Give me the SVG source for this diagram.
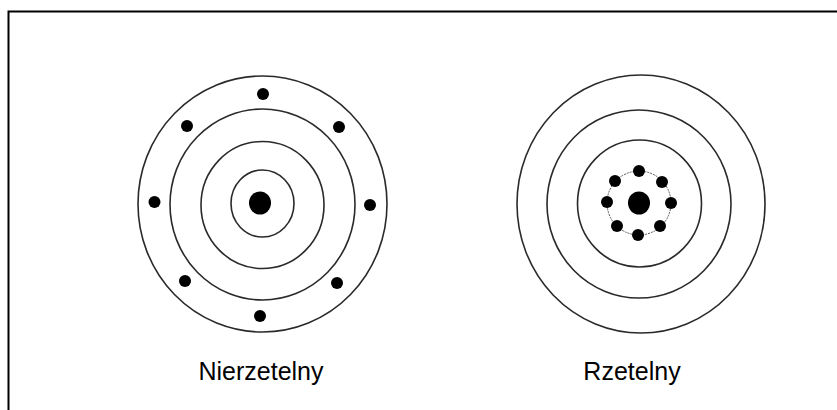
<svg xmlns="http://www.w3.org/2000/svg" width="837" height="410" viewBox="0 0 837 410">
<style>
.ring{fill:none;stroke:#2a2a2a;stroke-width:1.6}
.dot{fill:#000}
.lbl{font-family:"Liberation Sans",Arial,sans-serif;font-size:25px;fill:#000;text-anchor:middle}
</style>
<rect x="0" y="0" width="837" height="410" fill="#fff"/>
<rect x="8.5" y="11.5" width="900" height="500" fill="none" stroke="#000" stroke-width="2"/>
<g id="target-unreliable">
<ellipse class="ring" cx="262.5" cy="204" rx="124.5" ry="128"/>
<ellipse class="ring" cx="262.5" cy="204.5" rx="92.5" ry="95.5"/>
<ellipse class="ring" cx="262.5" cy="205" rx="61.5" ry="63.5"/>
<ellipse class="ring" cx="262.5" cy="203.5" rx="31.5" ry="33.5"/>
<ellipse class="dot" cx="260" cy="203" rx="11" ry="11.5"/>
<circle class="dot" cx="263" cy="94" r="6"/>
<circle class="dot" cx="187" cy="126" r="6"/>
<circle class="dot" cx="339" cy="127" r="6"/>
<circle class="dot" cx="154.5" cy="202" r="6"/>
<circle class="dot" cx="370" cy="205" r="6"/>
<circle class="dot" cx="185" cy="281" r="6"/>
<circle class="dot" cx="337" cy="283" r="6"/>
<circle class="dot" cx="260" cy="316" r="6"/>
</g>
<g id="target-reliable">
<ellipse class="ring" cx="641" cy="204" rx="124" ry="129"/>
<ellipse class="ring" cx="639" cy="204" rx="92" ry="94"/>
<ellipse class="ring" cx="639.5" cy="203.5" rx="62" ry="63.5"/>
<circle cx="639" cy="203" r="32" fill="none" stroke="#555" stroke-width="1" stroke-dasharray="2 1"/>
<ellipse class="dot" cx="639" cy="203" rx="11" ry="11.5"/>
<circle class="dot" cx="639" cy="171" r="6"/>
<circle class="dot" cx="662" cy="182" r="6"/>
<circle class="dot" cx="671" cy="203" r="6"/>
<circle class="dot" cx="660" cy="226" r="6"/>
<circle class="dot" cx="638" cy="235" r="6"/>
<circle class="dot" cx="617" cy="226" r="6"/>
<circle class="dot" cx="607" cy="202" r="6"/>
<circle class="dot" cx="615" cy="181" r="6"/>
</g>
<g id="labels">
<text class="lbl" x="261" y="380">Nierzetelny</text>
<text class="lbl" x="632" y="380">Rzetelny</text>
</g>
</svg>
